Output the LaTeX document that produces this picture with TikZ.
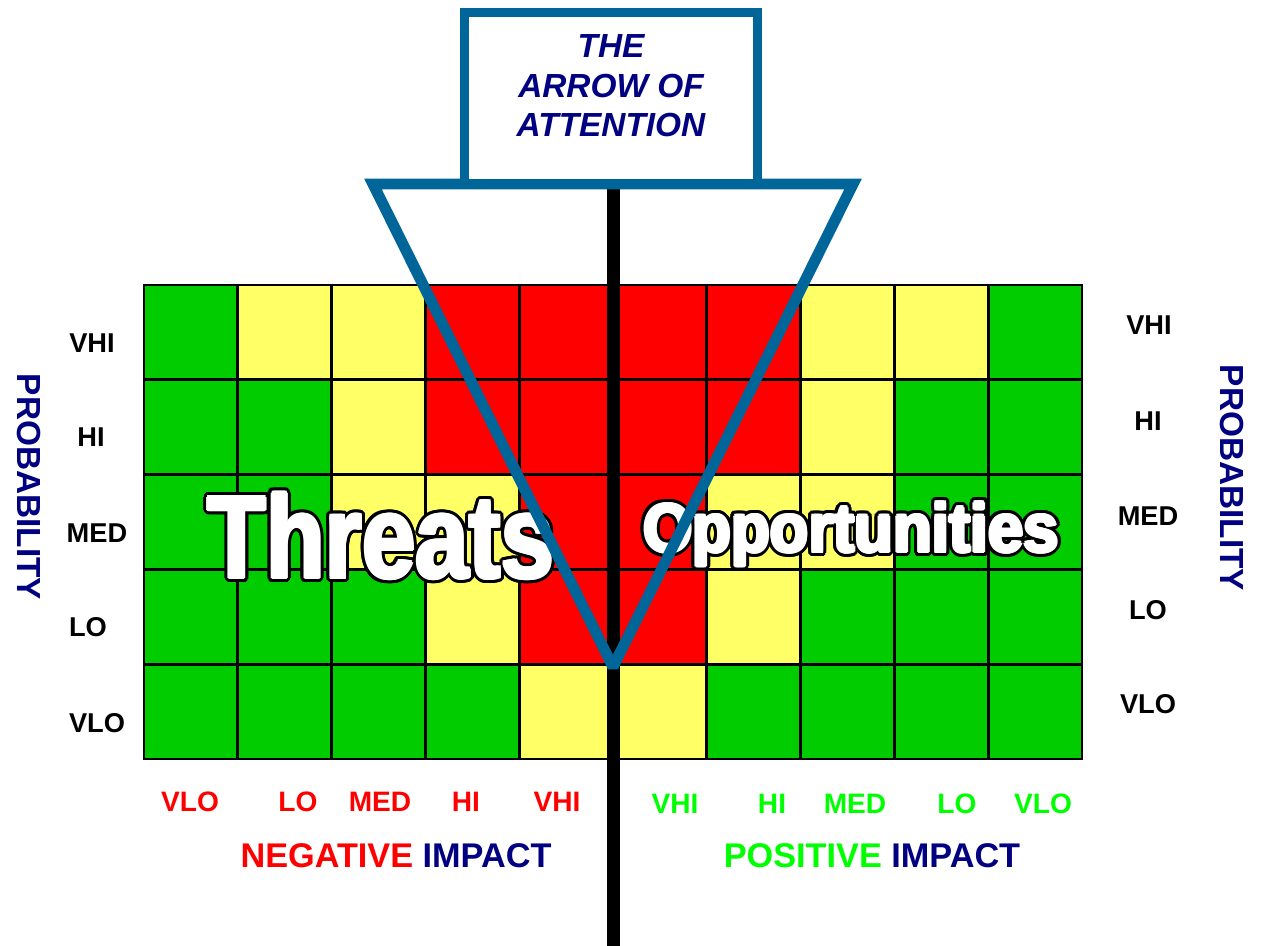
\documentclass[tikz,border=0pt]{standalone}
\usepackage{fontspec}
\setmainfont{Liberation Sans}
\usetikzlibrary{calc}
\definecolor{cG}{RGB}{0,204,0}
\definecolor{cY}{RGB}{255,255,102}
\definecolor{cR}{RGB}{255,0,0}
\definecolor{navy}{RGB}{0,0,128}
\definecolor{lgreen}{RGB}{0,255,0}
\definecolor{arrowblue}{RGB}{0,102,153}
\newlength\olw
\setlength\olw{2.7pt}
\newlength\fbw
\setlength\fbw{1.0pt}
\newcommand\outlined[2]{%
  \setbox0\hbox{\scalebox{#1}[1]{#2}}%
  \foreach \a in {0,15,...,345}{%
    \pgfmathsetlengthmacro\odx{\olw*cos(\a)}%
    \pgfmathsetlengthmacro\ody{\olw*sin(\a)}%
    \rlap{\hspace*{\odx}\raisebox{\ody}{\color{black}\copy0}}}%
  \foreach \a in {0,45,...,315}{%
    \pgfmathsetlengthmacro\odx{\fbw*cos(\a)}%
    \pgfmathsetlengthmacro\ody{\fbw*sin(\a)}%
    \rlap{\hspace*{\odx}\raisebox{\ody}{\color{white}\copy0}}}%
  {\color{white}\box0}}
\begin{document}
\begin{tikzpicture}[x=0.02cm,y=-0.02cm,
  gridline/.style={line width=1.5pt,black},
  ylab/.style={font=\fontsize{15.5}{18}\selectfont\bfseries,inner sep=0,text=black},
  xneg/.style={font=\fontsize{16}{18}\selectfont\bfseries,inner sep=0,text=cR},
  xpos/.style={font=\fontsize{16}{18}\selectfont\bfseries,inner sep=0,text=lgreen},
  axtitle/.style={font=\fontsize{19.5}{22}\selectfont\bfseries,inner sep=0},
  prob/.style={font=\fontsize{19}{22}\selectfont\bfseries,text=navy,rotate=-90,inner sep=0},
  bigword/.style={anchor=base,inner sep=0},
  arrowline/.style={draw=arrowblue,line width=0.22cm,line join=miter,miter limit=2},
  titlebox/.style={draw=arrowblue,fill=white,line width=0.18cm,inner sep=0},
  axis/.style={line width=0.26cm,black}]
\useasboundingbox (0,0) rectangle (1274,946);
\fill[white] (0,0) rectangle (1274,946);
% grid cells
\foreach \rowcols [count=\r from 0] in {{G,Y,Y,R,R,R,R,Y,Y,G},{G,G,Y,R,R,R,R,Y,G,G},{G,G,Y,Y,R,R,Y,Y,G,G},{G,G,G,Y,R,R,Y,G,G,G},{G,G,G,G,Y,Y,G,G,G,G}}{
  \foreach \cc [count=\k from 0] in \rowcols {
    \fill[c\cc] ({144+\k*93.8},{285+\r*94.8}) rectangle ++(93.8,94.8);
  }
}
\foreach \k in {1,...,9} \draw[gridline] ({144+\k*93.8},285) -- ({144+\k*93.8},759);
\foreach \r in {1,...,4} \draw[gridline] (144,{285+\r*94.8}) -- (1082,{285+\r*94.8});
\draw[gridline] (144,285) rectangle (1082,759);
% big words
\node[bigword,font=\fontsize{67}{72}\selectfont\bfseries] (threats) at (381,578) {\outlined{0.815}{Threats}};
\node[bigword,font=\fontsize{39}{44}\selectfont\bfseries] (opps) at (851,552) {\outlined{0.925}{Opportunities}};
% axis line
\coordinate (axtop) at (613,184);
\coordinate (axbot) at (613,946);
\draw[axis] (axtop) -- (axbot);
% arrow of attention
\coordinate (tl) at (373,184);
\coordinate (tr) at (853,184);
\coordinate (tip) at (613,667);
\draw[arrowline] (tl) -- (tr) -- (tip) -- cycle;
\node[titlebox,minimum width=5.86cm,minimum height=3.43cm] (box) at (611,98.25) {};
\node[font=\fontsize{19}{22.4}\selectfont\bfseries\itshape,text=navy,align=center,inner sep=0] (title) at (611,86) {THE\\ARROW OF\\ATTENTION};
% left labels
\node[ylab] (lvhi) at (92,343) {VHI};
\node[ylab] (lhi) at (91,437) {HI};
\node[ylab] (lmed) at (97,533) {MED};
\node[ylab] (llo) at (88,627) {LO};
\node[ylab] (lvlo) at (97,723) {VLO};
% right labels
\node[ylab] (rvhi) at (1149,325) {VHI};
\node[ylab] (rhi) at (1148,421) {HI};
\node[ylab] (rmed) at (1148,516) {MED};
\node[ylab] (rlo) at (1148,610) {LO};
\node[ylab] (rvlo) at (1148,704) {VLO};
\node[prob] (lprob) at (29,487) {PROBABILITY};
\node[prob] (rprob) at (1232,478) {PROBABILITY};
% bottom labels
\node[xneg] (nvlo) at (190,802) {VLO};
\node[xneg] (nlo) at (298,802) {LO};
\node[xneg] (nmed) at (380,802) {MED};
\node[xneg] (nhi) at (466,802) {HI};
\node[xneg] (nvhi) at (557,802) {VHI};
\node[xpos] (pvhi) at (675,804) {VHI};
\node[xpos] (phi) at (772,804) {HI};
\node[xpos] (pmed) at (855,804) {MED};
\node[xpos] (plo) at (957,804) {LO};
\node[xpos] (pvlo) at (1043,804) {VLO};
\node[axtitle] (negimp) at (396,856) {\textcolor{cR}{NEGATIVE} \textcolor{navy}{IMPACT}};
\node[axtitle] (posimp) at (872,856) {\textcolor{lgreen}{POSITIVE} \textcolor{navy}{IMPACT}};
\end{tikzpicture}
\end{document}
